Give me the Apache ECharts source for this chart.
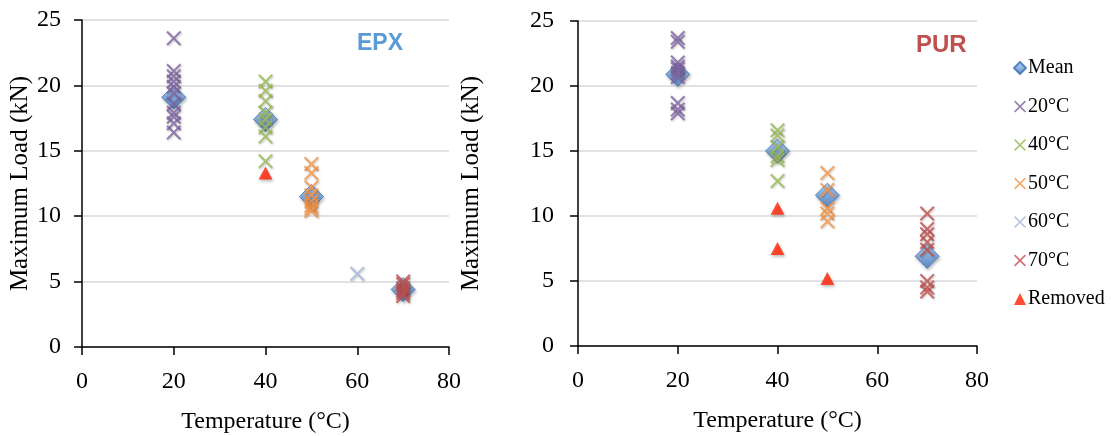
<!DOCTYPE html>
<html><head><meta charset="utf-8">
<script src="https://cdn.jsdelivr.net/npm/echarts@6/dist/echarts.min.js"></script>
<style>html,body{margin:0;padding:0;background:#fff}#c{width:1111px;height:436px}</style>
</head><body><div id="c"></div>
<script>
// ---- data ----
const xTickValues = [0, 20, 40, 60, 80];
const yTickValues = [0, 5, 10, 15, 20, 25];
const legendNames = ['Mean', '20°C', '40°C', '50°C', '60°C', '70°C', 'Removed'];
const panelTitles = ['EPX', 'PUR'];
const axisNames = ['Temperature (°C)', 'Maximum Load (kN)'];

// EPX
const epxMeanTemps = [20, 40, 50, 70];
const epxMeanLoads = [19.1, 17.4, 11.5, 4.4];
const epx20 = [23.6, 21.1, 20.7, 20.3, 19.9, 19.4, 18.6, 17.9, 17.6, 17.1, 16.4];
const epx40 = [20.3, 19.6, 18.8, 17.9, 17.4, 16.8, 16.1, 14.2];
const epx50 = [14.0, 13.3, 12.2, 11.6, 11.1, 10.8, 10.6, 10.4];
const epx60 = [5.6];
const epx70 = [5.0, 4.8, 4.5, 4.3, 4.1, 3.9];
const epxRemovedTemps = [40];
const epxRemovedLoads = [13.3];

// PUR
const purMeanTemps = [20, 40, 50, 70];
const purMeanLoads = [20.9, 15.0, 11.6, 6.9];
const pur20 = [23.7, 23.4, 21.8, 21.5, 21.3, 21.0, 20.7, 18.7, 18.2, 17.9];
const pur40 = [16.6, 16.2, 15.3, 14.6, 14.3, 12.7];
const pur50 = [13.3, 12.0, 10.6, 10.2, 9.6];
const pur60 = [];
const pur70 = [10.2, 9.0, 8.6, 8.0, 7.4, 5.0, 4.5, 4.2];
const purRemovedTemps = [40, 40, 50];
const purRemovedLoads = [10.6, 7.5, 5.2];

// ---- styles ----
const colors = {
  '20°C': '#8064a2', '40°C': '#9bbb59', '50°C': '#f79646',
  '60°C': '#a7b9da', '70°C': '#c0504d', 'Removed': '#ff2200'
};
const serif = 'Liberation Serif';
const t = 1.0;
const crossPath = 'path://M0,' + t + 'L' + t + ',0L5,' + (5 - t) + 'L' + (10 - t) + ',0L10,' + t +
  'L' + (5 + t) + ',5L10,' + (10 - t) + 'L' + (10 - t) + ',10L5,' + (5 + t) + 'L' + t + ',10L0,' +
  (10 - t) + 'L' + (5 - t) + ',5Z';
const shadow = { shadowBlur: 3, shadowOffsetX: 1, shadowOffsetY: 2, shadowColor: 'rgba(0,0,0,0.3)' };

function pairs(xs, ys) { return ys.map((v, i) => [xs[i], v]); }
function at(temp, ys) { return ys.map(v => [temp, v]); }

function meanSeries(idx, xs, ys) {
  return {
    name: 'Mean', type: 'scatter', xAxisIndex: idx, yAxisIndex: idx,
    symbol: 'diamond', symbolSize: 24, data: pairs(xs, ys), z: 2,
    itemStyle: Object.assign({
      color: new echarts.graphic.LinearGradient(0, 0, 0, 1, [
        { offset: 0, color: '#a9cdf7' }, { offset: 1, color: '#3f76c2' }]),
      borderColor: '#3a6fb5', borderWidth: 1
    }, shadow)
  };
}
function crossSeries(idx, name, temp, ys) {
  return {
    name: name, type: 'scatter', xAxisIndex: idx, yAxisIndex: idx,
    symbol: crossPath, symbolSize: 15, data: at(temp, ys), z: 3,
    itemStyle: { color: colors[name], shadowBlur: 2, shadowOffsetX: 1, shadowOffsetY: 1, shadowColor: 'rgba(0,0,0,0.25)' }
  };
}
function removedSeries(idx, xs, ys) {
  return {
    name: 'Removed', type: 'scatter', xAxisIndex: idx, yAxisIndex: idx,
    symbol: 'triangle', symbolSize: [14, 13], data: pairs(xs, ys), z: 4,
    itemStyle: Object.assign({ color: colors['Removed'] }, shadow)
  };
}

function xAxis(idx) {
  return {
    type: 'value', gridIndex: idx, min: xTickValues[0], max: xTickValues[xTickValues.length - 1],
    interval: xTickValues[1] - xTickValues[0],
    name: axisNames[0], nameLocation: 'middle', nameGap: 63,
    nameTextStyle: { fontFamily: serif, fontSize: 24, color: '#000' },
    axisLine: { show: true, onZero: false, lineStyle: { color: '#000', width: 1.5 } },
    axisTick: { show: true, length: 8, lineStyle: { color: '#000', width: 1.5 } },
    axisLabel: { fontFamily: serif, fontSize: 24, color: '#000', margin: 23 },
    splitLine: { show: false }
  };
}
function yAxis(idx, gap, lblMargin) {
  return {
    type: 'value', gridIndex: idx, min: yTickValues[0], max: yTickValues[yTickValues.length - 1],
    interval: yTickValues[1] - yTickValues[0],
    name: axisNames[1], nameLocation: 'middle', nameGap: gap,
    nameTextStyle: { fontFamily: serif, fontSize: 25, color: '#000' },
    axisLine: { show: true, onZero: false, lineStyle: { color: '#000', width: 1.5 } },
    axisTick: { show: true, length: 8, lineStyle: { color: '#000', width: 1.5 } },
    axisLabel: { fontFamily: serif, fontSize: 24, color: '#000', margin: lblMargin },
    splitLine: { show: true, lineStyle: { color: '#d9d9d9', width: 1.5 } }
  };
}

const legendIcons = {
  'Mean': 'diamond', '20°C': crossPath, '40°C': crossPath, '50°C': crossPath,
  '60°C': crossPath, '70°C': crossPath, 'Removed': 'triangle'
};

const option = {
  backgroundColor: '#fff',
  animation: false,
  title: [
    { text: panelTitles[0], left: 352, top: 27,
      textStyle: { fontFamily: 'Liberation Sans', fontWeight: 'bold', fontSize: 23, color: '#5b9bd5' } },
    { text: panelTitles[1], left: 911, top: 28,
      textStyle: { fontFamily: 'Liberation Sans', fontWeight: 'bold', fontSize: 24, color: '#c0504d' } }
  ],
  legend: {
    orient: 'vertical', left: 1008, top: 53,
    itemWidth: 12, itemHeight: 12, itemGap: 18.5,
    data: legendNames.map(n => ({ name: n, icon: legendIcons[n] })),
    textStyle: { fontFamily: serif, fontSize: 20, color: '#000', lineHeight: 20, padding: [0, 0, 0, -3] },
    selectedMode: false
  },
  grid: [
    { left: 82, top: 20, width: 367, height: 327, containLabel: false, outerBoundsMode: 'none' },
    { left: 578, top: 21, width: 399, height: 325, containLabel: false, outerBoundsMode: 'none' }
  ],
  xAxis: [xAxis(0), xAxis(1)],
  yAxis: [yAxis(0, 47, 21), yAxis(1, 94, 24)],
  series: [
    meanSeries(0, epxMeanTemps, epxMeanLoads),
    crossSeries(0, '20°C', 20, epx20),
    crossSeries(0, '40°C', 40, epx40),
    crossSeries(0, '50°C', 50, epx50),
    crossSeries(0, '60°C', 60, epx60),
    crossSeries(0, '70°C', 70, epx70),
    removedSeries(0, epxRemovedTemps, epxRemovedLoads),
    meanSeries(1, purMeanTemps, purMeanLoads),
    crossSeries(1, '20°C', 20, pur20),
    crossSeries(1, '40°C', 40, pur40),
    crossSeries(1, '50°C', 50, pur50),
    crossSeries(1, '60°C', 60, pur60),
    crossSeries(1, '70°C', 70, pur70),
    removedSeries(1, purRemovedTemps, purRemovedLoads)
  ]
};
const chart = echarts.init(document.getElementById('c'), null, { renderer: 'canvas' });
chart.setOption(option);
</script>
</body></html>
